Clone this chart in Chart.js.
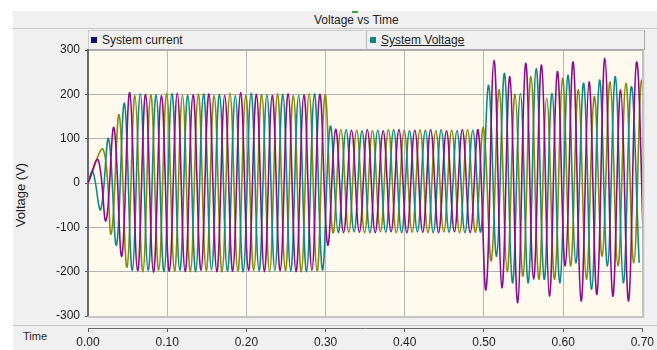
<!DOCTYPE html>
<html>
<head>
<meta charset="utf-8">
<script src="https://cdn.jsdelivr.net/npm/chart.js@4.4.1/dist/chart.umd.min.js"></script>
<style>
  body { margin: 0; width: 657px; height: 350px; background: #fff; position: relative; overflow: hidden;
         font-family: 'Liberation Sans', Arial, sans-serif; color: #1e1e1e; }
  #panel { position: absolute; left: 13px; top: 11px; right: 0; bottom: 0; background: #f0f0f0; }
  #titleBar { position: absolute; left: 13px; top: 11px; right: 0; height: 17px; border-bottom: 1px solid #c9c9c9; }
  #titleText { position: absolute; left: 314px; top: 13px; font-size: 12px; line-height: 14px; white-space: nowrap; }
  #titleMark { position: absolute; left: 352px; top: 11px; width: 6px; height: 2px; background: #2fa83a; }
  #legendBar { position: absolute; left: 88px; top: 30px; width: 555px; height: 18px;
               border: 1px solid #cdcdcd; border-bottom-color: #a9a9a9; border-right-color: #a9a9a9; }
  #legendDivider { position: absolute; left: 277px; top: 0; width: 1px; height: 18px; background: #b9b9b9; }
  .legendItem { position: absolute; top: 0; font-size: 12px; line-height: 18px; white-space: nowrap; }
  .legendItem i { display: inline-block; width: 6px; height: 6px; margin-right: 5px; vertical-align: 1px; }
  #axisSeparator { position: absolute; left: 13px; right: 0; top: 325px; height: 1px; background: #c6c6c6; }
  #yTitle { position: absolute; left: 20px; top: 195px; font-size: 13px; white-space: nowrap;
            transform: translate(-50%, -50%) rotate(-90deg); }
  #xTitle { position: absolute; left: 23px; top: 329px; font-size: 11px; line-height: 14px; }
  #chart { position: absolute; left: 0; top: 0; }
</style>
</head>
<body>
<div id="panel"></div>
<div id="titleBar"></div>
<div id="titleMark"></div>
<div id="titleText">Voltage vs Time</div>
<div id="legendBar">
  <div class="legendItem" style="left:2px"><i style="background:#0c0c7a"></i>System current</div>
  <div id="legendDivider"></div>
  <div class="legendItem" style="left:281px"><i style="background:#0e8585"></i><u>System Voltage</u></div>
</div>
<div id="axisSeparator"></div>
<div id="yTitle">Voltage (V)</div>
<div id="xTitle">Time</div>
<canvas id="chart" width="657" height="350"></canvas>

<script>
// time between successive half-cycle peaks (s)
const halfCycle = 0.01;

// time of the first peak of each phase (s)
const firstPeak = [0.0127, 0.006, 0.0193];

// half-cycle peak values (V), one per 10 ms, for each phase
const phaseA = [
  52, -85, 125, -165, 204, -198, 200, -201, 197, -199,
  203, -200, 199, -197, 201, -200, 198, -199, 204, -197,
  200, -200, 198, -198, 202, -200, 199, -197, 200, -140,
  121, -112, 119, -111, 120, -112, 118, -110, 120, -112,
  119, -111, 120, -112, 118, -110, 120, -112, 119, -240,
  277, -236, 240, -270, 270, -217, 266, -255, 251, -187,
  273, -266, 228, -251, 281, -255, 210, -266, 273, -217
];
const phaseB = [
  26, -60, 100, -140, 180, -197, 201, -198, 199, -200,
  202, -197, 198, -200, 201, -196, 200, -199, 197, -200,
  203, -198, 199, -197, 200, -199, 198, -200, 201, -196,
  128, -112, 120, -110, 118, -112, 119, -111, 120, -112,
  118, -110, 119, -112, 120, -111, 118, -112, 119, -110,
  220, -165, 247, -225, 202, -225, 258, -217, 202, -225,
  243, -180, 225, -240, 232, -187, 240, -225, 217, -180
];
const phaseC = [
  75, -115, 154, -190, 197, -200, 199, -197, 202, -199,
  198, -200, 201, -198, 197, -200, 203, -199, 198, -197,
  200, -200, 201, -198, 197, -200, 202, -199, 198, -112,
  120, -111, 119, -112, 118, -110, 120, -112, 119, -111,
  120, -112, 118, -110, 119, -112, 120, -111, 125, -175,
  210, -200, 200, -210, 240, -217, 191, -217, 236, -187,
  210, -217, 195, -165, 228, -187, 225, -180, 232, -200
];

const xTicks = { min: 0, max: 0.7, step: 0.1 };
const yTicks = { min: -300, max: 300, step: 100 };

// start every phase at zero, then one point per peak
function toPoints(start, peaks) {
  const pts = [{ x: 0, y: 0 }];
  peaks.forEach((v, i) => pts.push({ x: +(start + i * halfCycle).toFixed(4), y: v }));
  return pts;
}

const tickFont = { family: "'Liberation Sans', Arial, sans-serif", size: 12 };

// cream plot background and the grey frame around it
const plotFrame = {
  id: 'plotFrame',
  beforeDraw(chart) {
    const { ctx, chartArea: a } = chart;
    ctx.save();
    ctx.fillStyle = '#fffaee';
    ctx.fillRect(a.left, a.top, a.right - a.left, a.bottom - a.top);
    ctx.restore();
  },
  afterDatasetsDraw(chart) {
    const { ctx, chartArea: a } = chart;
    ctx.save();
    ctx.strokeStyle = '#c4c4c4';
    ctx.lineWidth = 2;
    ctx.beginPath();
    ctx.moveTo(a.left, a.bottom + 1);
    ctx.lineTo(a.right + 1, a.bottom + 1);
    ctx.lineTo(a.right + 1, a.top);
    ctx.stroke();
    ctx.restore();
  }
};

new Chart(document.getElementById('chart'), {
  type: 'line',
  data: {
    datasets: [
      { data: toPoints(firstPeak[0], phaseA), borderColor: '#8c0c8c' },
      { data: toPoints(firstPeak[1], phaseB), borderColor: '#0c8a8a' },
      { data: toPoints(firstPeak[2], phaseC), borderColor: '#8a8a08' }
    ]
  },
  options: {
    responsive: false,
    animation: false,
    layout: { padding: { left: 13, top: 50, right: 11, bottom: 0 } },
    plugins: { legend: { display: false }, title: { display: false }, tooltip: { enabled: false } },
    elements: {
      point: { radius: 0 },
      line: { borderWidth: 1.6, tension: 0.4 }
    },
    scales: {
      // grid only, leaves a gap under the plot
      x: {
        type: 'linear', position: 'bottom', weight: 0,
        min: xTicks.min, max: xTicks.max,
        ticks: { display: false, stepSize: xTicks.step },
        grid: { color: '#b6b6b6', drawTicks: false },
        border: { display: false },
        afterFit: s => { s.height = 12; }
      },
      // the visible time axis
      xAxis: {
        type: 'linear', position: 'bottom', weight: 1,
        min: xTicks.min, max: xTicks.max,
        ticks: { stepSize: xTicks.step, autoSkip: false, maxRotation: 0, padding: 3,
                 font: tickFont, color: '#1e1e1e', callback: v => v.toFixed(2) },
        grid: { drawOnChartArea: false, tickLength: 4, tickColor: '#5a5a5a' },
        border: { color: '#6a6a6a', width: 1 },
        afterFit: s => { s.height = 22; }
      },
      y: {
        min: yTicks.min, max: yTicks.max,
        ticks: { stepSize: yTicks.step, padding: 5, font: tickFont, color: '#1e1e1e' },
        grid: { color: '#b0b0b0', tickLength: 3, tickColor: '#5a5a5a' },
        border: { color: '#6a6a6a', width: 2 },
        afterFit: s => { s.width = 75; }
      }
    }
  },
  plugins: [plotFrame]
});
</script>
</body>
</html>
